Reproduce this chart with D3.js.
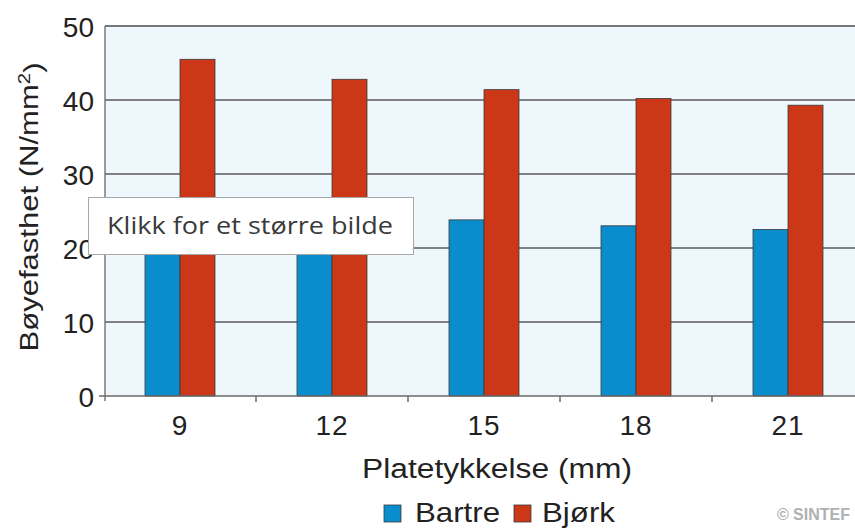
<!DOCTYPE html>
<html>
<head>
<meta charset="utf-8">
<script src="https://cdn.jsdelivr.net/npm/d3@7"></script>
<style>
  html, body { margin: 0; padding: 0; background: #fff; }
  svg { display: block; }
  text { font-family: "Liberation Sans", Arial, Helvetica, sans-serif; fill: #222; }
</style>
</head>
<body>
<svg id="chart" width="855" height="528"></svg>
<script>
// Bøyefasthet for plater av bartre og bjørk, etter platetykkelse
const categories = ["9", "12", "15", "18", "21"];
const seriesNames = ["Bartre", "Bjørk"];
const bartre = [25.3, 24.5, 23.8, 23.0, 22.5];
const bjork = [45.5, 42.8, 41.4, 40.2, 39.3];
const yTicks = [0, 10, 20, 30, 40, 50];
const seriesColors = ["#0a8dcc", "#cc3817"];

const svg = d3.select("#chart");
const plotLeft = 105, plotTop = 26, plotBottom = 396, plotRight = 864;

const x0 = d3.scaleBand().domain(categories).range([plotLeft - 1, plotRight]).padding(0);
const bw = x0.bandwidth();
const x1 = d3.scaleBand().domain(seriesNames).range([bw / 2 - 35, bw / 2 + 35]).padding(0);
const y = d3.scaleLinear().domain([0, 50]).range([plotBottom, plotTop]);
const color = d3.scaleOrdinal().domain(seriesNames).range(seriesColors);

// plot background
svg.append("rect")
  .attr("x", plotLeft).attr("y", plotTop)
  .attr("width", 855 - plotLeft).attr("height", plotBottom - plotTop)
  .attr("fill", "#eef7fb");

// horizontal grid lines
svg.append("g")
  .selectAll("line")
  .data(yTicks.filter(d => d > 0 && d < 50))
  .join("line")
  .attr("x1", plotLeft).attr("x2", 855)
  .attr("y1", d => y(d)).attr("y2", d => y(d))
  .attr("stroke", "#5a5a5a").attr("stroke-width", 1.5);

// top frame line
svg.append("line")
  .attr("x1", plotLeft).attr("x2", 855)
  .attr("y1", y(50)).attr("y2", y(50))
  .attr("stroke", "#777").attr("stroke-width", 2);

// bars
const rows = categories.map((c, i) => ({ cat: c, values: [bartre[i], bjork[i]] }));
const groups = svg.append("g")
  .selectAll("g")
  .data(rows)
  .join("g")
  .attr("transform", d => `translate(${x0(d.cat)},0)`);

groups.selectAll("rect")
  .data(d => d.values.map((v, j) => ({ key: seriesNames[j], value: v })))
  .join("rect")
  .attr("x", d => x1(d.key))
  .attr("width", x1.bandwidth())
  .attr("y", d => y(d.value))
  .attr("height", d => y(0) - y(d.value))
  .attr("fill", d => color(d.key))
  .attr("stroke", "#3a3a3a")
  .attr("stroke-width", 0.8);

// left axis
const yAxis = d3.axisLeft(y).tickValues(yTicks).tickSize(0).tickPadding(11);
const gy = svg.append("g").attr("transform", `translate(${plotLeft},0)`).call(yAxis);
gy.select(".domain").remove();
gy.selectAll("text")
  .style("font-size", "28px")
  .style("font-family", "'Liberation Sans', Arial, sans-serif")
  .attr("fill", "#222")
  .attr("dy", "0.36em");
svg.append("line")
  .attr("x1", plotLeft).attr("x2", plotLeft)
  .attr("y1", plotTop).attr("y2", plotBottom + 5)
  .attr("stroke", "#7a7a7a").attr("stroke-width", 1.5);

// bottom axis with separators between groups
svg.append("line")
  .attr("x1", plotLeft - 6).attr("x2", 855)
  .attr("y1", plotBottom).attr("y2", plotBottom)
  .attr("stroke", "#6a6a6a").attr("stroke-width", 1.5);
svg.append("g")
  .selectAll("line")
  .data(categories.slice(1))
  .join("line")
  .attr("x1", d => x0(d)).attr("x2", d => x0(d))
  .attr("y1", plotBottom).attr("y2", plotBottom + 6)
  .attr("stroke", "#6a6a6a").attr("stroke-width", 1.5);

const xAxis = d3.axisBottom(x0).tickSize(0).tickPadding(19);
const gx = svg.append("g").attr("transform", `translate(0,${plotBottom})`).call(xAxis);
gx.select(".domain").remove();
gx.selectAll("text")
  .style("font-size", "28px")
  .style("font-family", "'Liberation Sans', Arial, sans-serif")
  .style("letter-spacing", "1px")
  .attr("fill", "#222");

// axis titles
svg.append("text")
  .attr("x", 497).attr("y", 478)
  .attr("text-anchor", "middle")
  .attr("textLength", 270).attr("lengthAdjust", "spacingAndGlyphs")
  .style("font-size", "27px")
  .text("Platetykkelse (mm)");

const yt = svg.append("text")
  .attr("transform", "translate(38,207) rotate(-90)")
  .attr("text-anchor", "middle")
  .attr("textLength", 289).attr("lengthAdjust", "spacingAndGlyphs")
  .style("font-size", "26px");
yt.append("tspan").text("Bøyefasthet (N/mm");
yt.append("tspan").attr("dy", "-0.45em").style("font-size", "17px").text("2");
yt.append("tspan").attr("dy", "0.45em").text(")");

// legend
const legend = svg.append("g");
const legendItems = [
  { key: seriesNames[0], sx: 384, tx: 415, tw: 85 },
  { key: seriesNames[1], sx: 514, tx: 542, tw: 73 }
];
legend.selectAll("rect")
  .data(legendItems)
  .join("rect")
  .attr("x", d => d.sx).attr("y", 505)
  .attr("width", 17).attr("height", 17)
  .attr("fill", d => color(d.key))
  .attr("stroke", "#3a3a3a").attr("stroke-width", 0.8);
legend.selectAll("text")
  .data(legendItems)
  .join("text")
  .attr("x", d => d.tx).attr("y", 522)
  .attr("textLength", d => d.tw).attr("lengthAdjust", "spacingAndGlyphs")
  .style("font-size", "28px")
  .text(d => d.key);

// credit
svg.append("text")
  .attr("x", 850).attr("y", 520)
  .attr("text-anchor", "end")
  .style("font-size", "16px")
  .style("font-weight", "bold")
  .style("fill", "#b0b0b0")
  .text("© SINTEF");

// hover hint box
const hint = svg.append("g");
hint.append("rect")
  .attr("x", 88.5).attr("y", 197.5)
  .attr("width", 325).attr("height", 57)
  .attr("fill", "#fff")
  .attr("stroke", "#a8a8a8").attr("stroke-width", 1);
hint.append("text")
  .attr("x", 107).attr("y", 234)
  .attr("textLength", 286).attr("lengthAdjust", "spacingAndGlyphs")
  .style("font-family", "'Open Sans', 'Noto Sans', sans-serif")
  .style("font-size", "23px")
  .style("fill", "#3a3a3a")
  .text("Klikk for et større bilde");
</script>
</body>
</html>
